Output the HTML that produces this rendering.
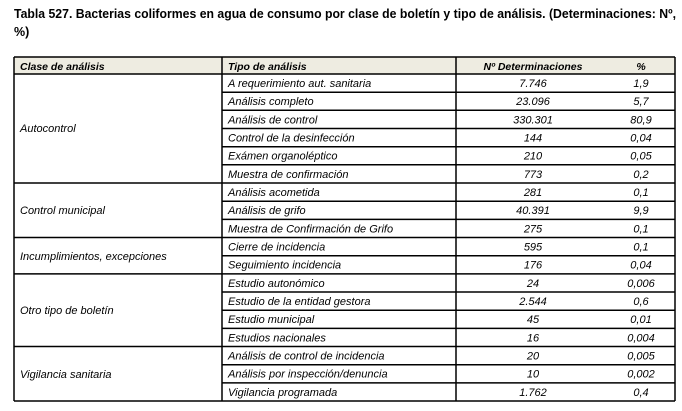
<!DOCTYPE html>
<html><head><meta charset="utf-8"><style>
html,body{margin:0;padding:0;background:#fff;}
svg{display:block;}
text{font-family:"Liberation Sans",Arial,sans-serif;fill:#000;}
.t{font-weight:bold;font-size:12.5px;}
.h{font-weight:bold;font-style:italic;font-size:10.5px;}
.c{font-style:italic;font-size:11px;}
</style></head><body>
<svg width="682" height="411" viewBox="0 0 682 411" xmlns="http://www.w3.org/2000/svg">
<rect x="0" y="0" width="682" height="411" fill="#fff"/>
<text class="t" x="14" y="18" textLength="662" lengthAdjust="spacingAndGlyphs">Tabla 527. Bacterias coliformes en agua de consumo por clase de boletín y tipo de análisis. (Determinaciones: Nº,</text>
<text class="t" x="14" y="36">%)</text>

<rect x="14" y="57" width="661" height="17" fill="#eeece1"/>

<g stroke="#000" stroke-width="1.5" fill="none">
<line x1="14" y1="57" x2="675" y2="57"/>
<line x1="14" y1="74" x2="675" y2="74"/>
<line x1="14" y1="57" x2="14" y2="401"/>
<line x1="222" y1="57" x2="222" y2="401"/>
<line x1="456" y1="57" x2="456" y2="401"/>
<line x1="675" y1="57" x2="675" y2="401"/>
<line x1="222" y1="92.2" x2="675" y2="92.2"/>
<line x1="222" y1="110.3" x2="675" y2="110.3"/>
<line x1="222" y1="128.5" x2="675" y2="128.5"/>
<line x1="222" y1="146.7" x2="675" y2="146.7"/>
<line x1="222" y1="164.8" x2="675" y2="164.8"/>
<line x1="14" y1="183" x2="675" y2="183"/>
<line x1="222" y1="201.2" x2="675" y2="201.2"/>
<line x1="222" y1="219.4" x2="675" y2="219.4"/>
<line x1="14" y1="237.5" x2="675" y2="237.5"/>
<line x1="222" y1="255.7" x2="675" y2="255.7"/>
<line x1="14" y1="273.9" x2="675" y2="273.9"/>
<line x1="222" y1="292" x2="675" y2="292"/>
<line x1="222" y1="310.2" x2="675" y2="310.2"/>
<line x1="222" y1="328.4" x2="675" y2="328.4"/>
<line x1="14" y1="346.5" x2="675" y2="346.5"/>
<line x1="222" y1="364.7" x2="675" y2="364.7"/>
<line x1="222" y1="382.9" x2="675" y2="382.9"/>
<line x1="14" y1="401" x2="675" y2="401"/>
</g>

<text class="h" x="20" y="70">Clase de análisis</text>
<text class="h" x="228" y="70">Tipo de análisis</text>
<text class="h" x="533" y="70" text-anchor="middle">Nº Determinaciones</text>
<text class="h" x="641" y="70" text-anchor="middle">%</text>

<text class="c" x="20" y="132">Autocontrol</text>
<text class="c" x="20" y="214">Control municipal</text>
<text class="c" x="20" y="260">Incumplimientos, excepciones</text>
<text class="c" x="20" y="314">Otro tipo de boletín</text>
<text class="c" x="20" y="378">Vigilancia sanitaria</text>

<text class="c" x="228" y="87">A requerimiento aut. sanitaria</text>
<text class="c" x="533" y="87" text-anchor="middle">7.746</text>
<text class="c" x="641" y="87" text-anchor="middle">1,9</text>

<text class="c" x="228" y="105.2">Análisis completo</text>
<text class="c" x="533" y="105.2" text-anchor="middle">23.096</text>
<text class="c" x="641" y="105.2" text-anchor="middle">5,7</text>

<text class="c" x="228" y="123.3">Análisis de control</text>
<text class="c" x="533" y="123.3" text-anchor="middle">330.301</text>
<text class="c" x="641" y="123.3" text-anchor="middle">80,9</text>

<text class="c" x="228" y="141.5">Control de la desinfección</text>
<text class="c" x="533" y="141.5" text-anchor="middle">144</text>
<text class="c" x="641" y="141.5" text-anchor="middle">0,04</text>

<text class="c" x="228" y="159.7">Exámen organoléptico</text>
<text class="c" x="533" y="159.7" text-anchor="middle">210</text>
<text class="c" x="641" y="159.7" text-anchor="middle">0,05</text>

<text class="c" x="228" y="177.8">Muestra de confirmación</text>
<text class="c" x="533" y="177.8" text-anchor="middle">773</text>
<text class="c" x="641" y="177.8" text-anchor="middle">0,2</text>

<text class="c" x="228" y="196">Análisis acometida</text>
<text class="c" x="533" y="196" text-anchor="middle">281</text>
<text class="c" x="641" y="196" text-anchor="middle">0,1</text>

<text class="c" x="228" y="214.2">Análisis de grifo</text>
<text class="c" x="533" y="214.2" text-anchor="middle">40.391</text>
<text class="c" x="641" y="214.2" text-anchor="middle">9,9</text>

<text class="c" x="228" y="232.4">Muestra de Confirmación de Grifo</text>
<text class="c" x="533" y="232.4" text-anchor="middle">275</text>
<text class="c" x="641" y="232.4" text-anchor="middle">0,1</text>

<text class="c" x="228" y="250.5">Cierre de incidencia</text>
<text class="c" x="533" y="250.5" text-anchor="middle">595</text>
<text class="c" x="641" y="250.5" text-anchor="middle">0,1</text>

<text class="c" x="228" y="268.7">Seguimiento incidencia</text>
<text class="c" x="533" y="268.7" text-anchor="middle">176</text>
<text class="c" x="641" y="268.7" text-anchor="middle">0,04</text>

<text class="c" x="228" y="286.9">Estudio autonómico</text>
<text class="c" x="533" y="286.9" text-anchor="middle">24</text>
<text class="c" x="641" y="286.9" text-anchor="middle">0,006</text>

<text class="c" x="228" y="305">Estudio de la entidad gestora</text>
<text class="c" x="533" y="305" text-anchor="middle">2.544</text>
<text class="c" x="641" y="305" text-anchor="middle">0,6</text>

<text class="c" x="228" y="323.2">Estudio municipal</text>
<text class="c" x="533" y="323.2" text-anchor="middle">45</text>
<text class="c" x="641" y="323.2" text-anchor="middle">0,01</text>

<text class="c" x="228" y="341.4">Estudios nacionales</text>
<text class="c" x="533" y="341.4" text-anchor="middle">16</text>
<text class="c" x="641" y="341.4" text-anchor="middle">0,004</text>

<text class="c" x="228" y="359.5">Análisis de control de incidencia</text>
<text class="c" x="533" y="359.5" text-anchor="middle">20</text>
<text class="c" x="641" y="359.5" text-anchor="middle">0,005</text>

<text class="c" x="228" y="377.7">Análisis por inspección/denuncia</text>
<text class="c" x="533" y="377.7" text-anchor="middle">10</text>
<text class="c" x="641" y="377.7" text-anchor="middle">0,002</text>

<text class="c" x="228" y="395.9">Vigilancia programada</text>
<text class="c" x="533" y="395.9" text-anchor="middle">1.762</text>
<text class="c" x="641" y="395.9" text-anchor="middle">0,4</text>
</svg>
</body></html>
